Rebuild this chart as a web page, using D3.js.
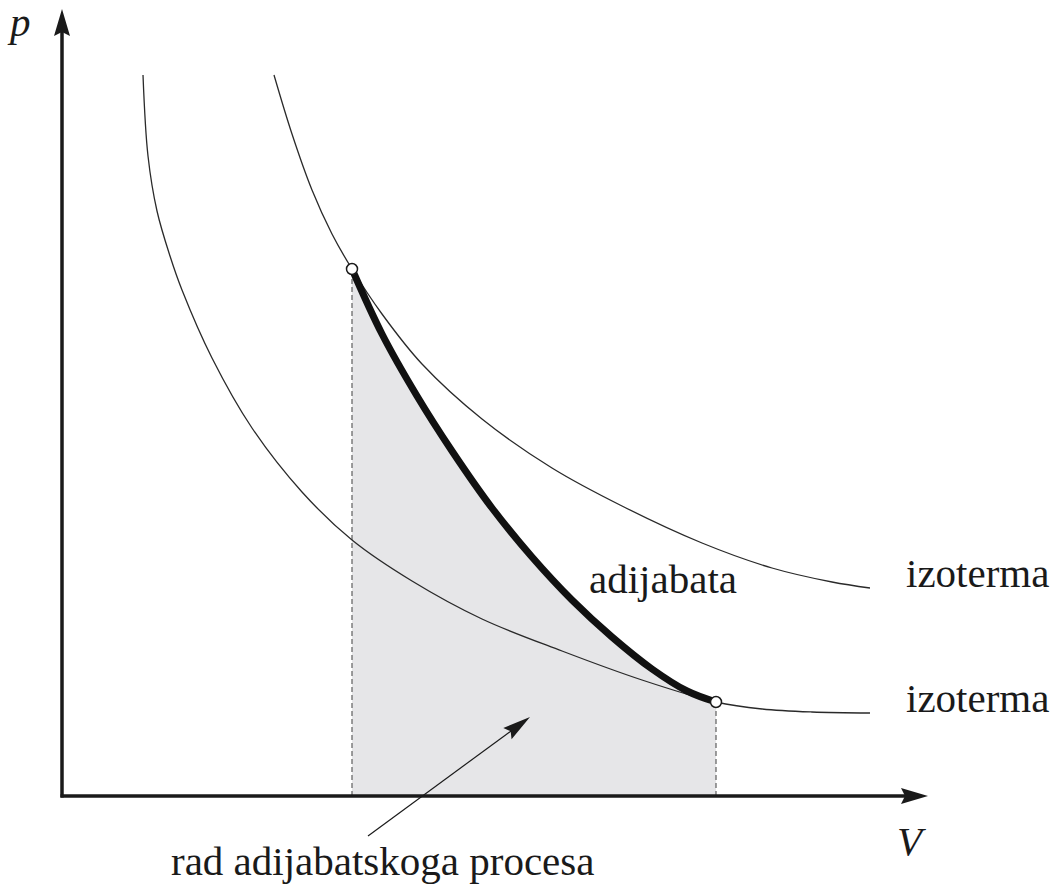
<!DOCTYPE html>
<html>
<head>
<meta charset="utf-8">
<script src="https://cdn.jsdelivr.net/npm/d3@7"></script>
<style>
  body { margin: 0; background: #fff; }
  svg { display: block; }
  text { font-family: "Liberation Serif", "Times New Roman", serif; fill: #1a1a1a; }
</style>
</head>
<body>
<svg id="chart" width="1055" height="888"></svg>
<script>
// Tocke ocitane sa slike, [V, p] u proizvoljnim jedinicama
const izotermaGornja = [
  [2.12, 7.21], [2.30, 6.62], [2.50, 6.06], [2.70, 5.62], [2.90, 5.27],
  [3.20, 4.82], [3.60, 4.32], [4.20, 3.77], [4.90, 3.28], [5.60, 2.90],
  [6.40, 2.53], [7.10, 2.28], [7.70, 2.14], [8.08, 2.08]
];

const izotermaDonja = [
  [0.81, 7.21], [0.86, 6.40], [0.95, 5.85], [1.08, 5.40], [1.20, 5.06],
  [1.50, 4.38], [1.90, 3.68], [2.40, 3.04], [2.90, 2.56], [3.50, 2.15],
  [4.20, 1.77], [5.00, 1.45], [5.80, 1.16], [6.54, 0.94], [7.00, 0.87],
  [7.50, 0.84], [8.08, 0.83]
];

const adijabata = [
  [2.90, 5.27], [3.20, 4.62], [3.55, 4.00], [3.90, 3.45], [4.30, 2.88],
  [4.70, 2.39], [5.10, 1.96], [5.50, 1.59], [5.90, 1.27], [6.25, 1.05],
  [6.54, 0.94]
];

// Pocetno i krajnje stanje
const stanja = [[2.90, 5.27], [6.54, 0.94]];

// Strelica prema povrsini (od teksta do vrha)
const strelicaRad = [[3.06, -0.40], [4.68, 0.79]];

const osi = { V: 8.66, p: 7.87 };
const natpisi = ["p", "V", "izoterma", "izoterma", "adijabata", "rad adijabatskoga procesa"];

const svg = d3.select("#chart");

const x = d3.scaleLinear().domain([0, osi.V]).range([62, 928]);
const y = d3.scaleLinear().domain([0, osi.p]).range([796, 9]);

const line = d3.line()
  .x(d => x(d[0]))
  .y(d => y(d[1]))
  .curve(d3.curveCatmullRom.alpha(0.5));

// Osjencana povrsina ispod adijabate
const area = d3.area()
  .x(d => x(d[0]))
  .y0(y(0))
  .y1(d => y(d[1]))
  .curve(d3.curveCatmullRom.alpha(0.5));

svg.append("path")
  .datum(adijabata)
  .attr("d", area)
  .attr("fill", "#e6e6e8");

// Isprekidane okomice
svg.selectAll(".okomica")
  .data(stanja)
  .join("line")
  .attr("class", "okomica")
  .attr("x1", d => x(d[0])).attr("x2", d => x(d[0]))
  .attr("y1", y(0)).attr("y2", d => y(d[1]))
  .attr("stroke", "#6a6a6a")
  .attr("stroke-width", 1.3)
  .attr("stroke-dasharray", "5,3");

// Izoterme
[izotermaGornja, izotermaDonja].forEach(c => {
  svg.append("path")
    .datum(c)
    .attr("d", line)
    .attr("fill", "none")
    .attr("stroke", "#2a2a2a")
    .attr("stroke-width", 1.3);
});

// Adijabata
svg.append("path")
  .datum(adijabata)
  .attr("d", line)
  .attr("fill", "none")
  .attr("stroke", "#111")
  .attr("stroke-width", 7)
  .attr("stroke-linecap", "round");

// Vrh strelice
function arrowHead(tip, from, len, half, notch) {
  const dx = tip[0] - from[0], dy = tip[1] - from[1];
  const l = Math.hypot(dx, dy);
  const ux = dx / l, uy = dy / l;
  const bx = tip[0] - ux * len, by = tip[1] - uy * len;
  const nx = tip[0] - ux * (len - notch), ny = tip[1] - uy * (len - notch);
  return `M${tip[0]},${tip[1]}L${bx - uy * half},${by + ux * half}L${nx},${ny}L${bx + uy * half},${by - ux * half}Z`;
}

// Osi
const o = [x(0), y(0)];
svg.append("line")
  .attr("x1", o[0]).attr("y1", o[1] + 1.5)
  .attr("x2", o[0]).attr("y2", y(osi.p) + 20)
  .attr("stroke", "#1a1a1a").attr("stroke-width", 3.5);
svg.append("line")
  .attr("x1", o[0] - 1.5).attr("y1", o[1])
  .attr("x2", x(osi.V) - 20).attr("y2", o[1])
  .attr("stroke", "#1a1a1a").attr("stroke-width", 3.5);
svg.append("path")
  .attr("d", arrowHead([o[0], y(osi.p)], o, 27, 8, 4))
  .attr("fill", "#1a1a1a");
svg.append("path")
  .attr("d", arrowHead([x(osi.V), o[1]], o, 27, 8, 4))
  .attr("fill", "#1a1a1a");

// Strelica "rad adijabatskoga procesa"
const s0 = [x(strelicaRad[0][0]), y(strelicaRad[0][1])];
const s1 = [x(strelicaRad[1][0]), y(strelicaRad[1][1])];
svg.append("line")
  .attr("x1", s0[0]).attr("y1", s0[1])
  .attr("x2", s1[0] - (s1[0] - s0[0]) * 0.1).attr("y2", s1[1] - (s1[1] - s0[1]) * 0.1)
  .attr("stroke", "#1a1a1a").attr("stroke-width", 1.2);
svg.append("path")
  .attr("d", arrowHead(s1, s0, 28, 7, 4))
  .attr("fill", "#1a1a1a");

// Kruzici za stanja
svg.selectAll(".stanje")
  .data(stanja)
  .join("circle")
  .attr("class", "stanje")
  .attr("cx", d => x(d[0]))
  .attr("cy", d => y(d[1]))
  .attr("r", 5.5)
  .attr("fill", "#fff")
  .attr("stroke", "#1a1a1a")
  .attr("stroke-width", 1.5);

// Natpisi
const txt = (s, px, py, italic) => svg.append("text")
  .attr("x", px).attr("y", py)
  .attr("font-size", 41)
  .attr("font-style", italic ? "italic" : "normal")
  .text(s);

txt(natpisi[0], 10, 36, true);
txt(natpisi[1], 897, 855, true);
txt(natpisi[2], 906, 587);
txt(natpisi[3], 906, 712);
txt(natpisi[4], 589, 593);
txt(natpisi[5], 171, 875);
</script>
</body>
</html>
